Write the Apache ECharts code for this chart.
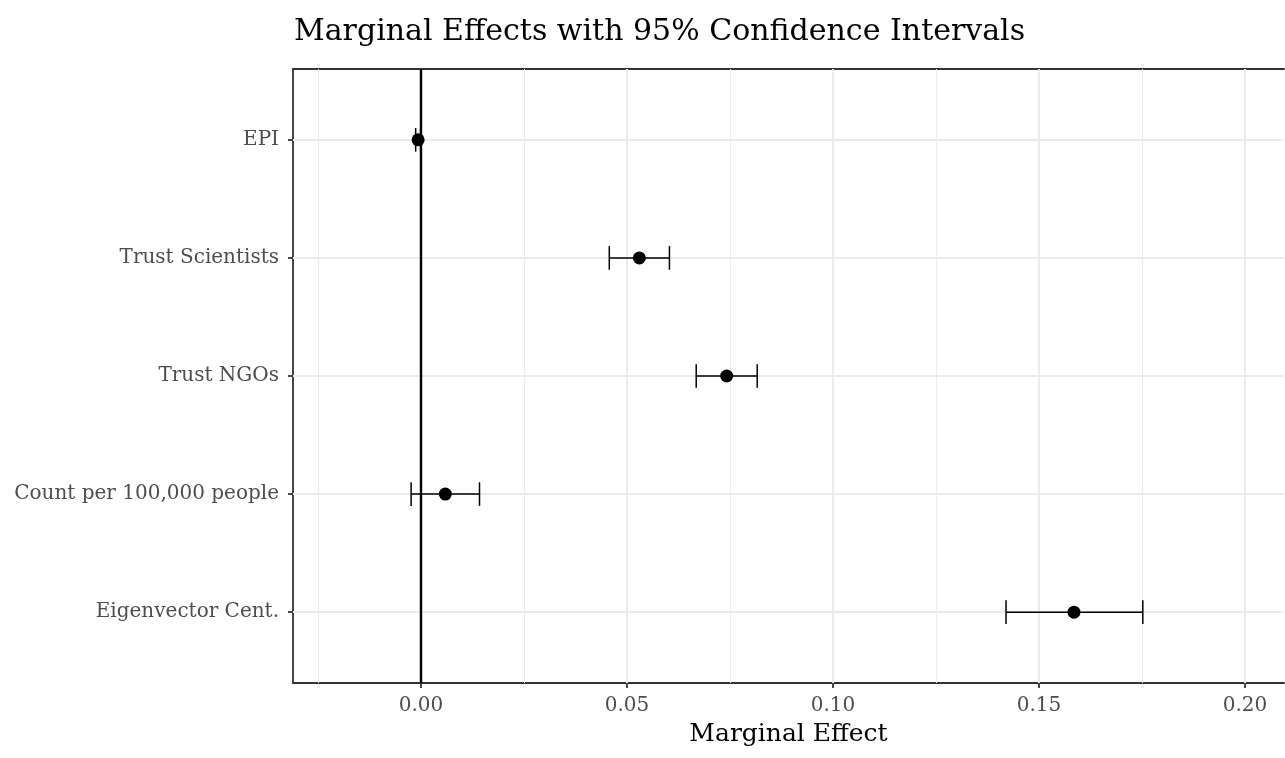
<!DOCTYPE html>
<html>
<head>
<meta charset="utf-8">
<script src="https://cdn.jsdelivr.net/npm/echarts@6/dist/echarts.min.js"></script>
<style>html,body{margin:0;padding:0;background:#fff;}#c{width:1285px;height:758px;}</style>
</head>
<body>
<div id="c"></div>
<script>
const categories = ['EPI', 'Trust Scientists', 'Trust NGOs', 'Count per 100,000 people', 'Eigenvector Cent.'];
const estimates = [-0.0007, 0.0530, 0.0742, 0.0059, 0.1585];
const lowerCI = [-0.0013, 0.0457, 0.0668, -0.0024, 0.1420];
const upperCI = [-0.0001, 0.0603, 0.0816, 0.0142, 0.1752];
const xTicks = [0, 0.05, 0.10, 0.15, 0.20];
const xMinorGrid = [-0.025, 0.025, 0.075, 0.125, 0.175];
const yTicks = [0, 1, 2, 3, 4];

const FONT = 'DejaVu Serif';
const chart = echarts.init(document.getElementById('c'), null, {renderer: 'canvas'});

const errData = categories.map((c, i) => [lowerCI[i], upperCI[i], i]);
const ptData = categories.map((c, i) => [estimates[i], i]);

const gridLines = [];
xMinorGrid.forEach(v => gridLines.push({xAxis: v, lineStyle: {width: 1, color: '#ededed', type: 'solid'}}));
xTicks.forEach(v => gridLines.push({xAxis: v, lineStyle: {width: 2, color: '#ebebeb', type: 'solid'}}));
yTicks.forEach(v => gridLines.push({yAxis: v, lineStyle: {width: 2, color: '#ebebeb', type: 'solid'}}));

const X_MIN = -0.03107, X_MAX = 0.20947;

chart.setOption({
  animation: false,
  backgroundColor: '#ffffff',
  title: {
    text: 'Marginal Effects with 95% Confidence Intervals',
    left: 289, top: 12,
    textStyle: {fontFamily: FONT, fontSize: 30, fontWeight: 'normal', color: '#000'}
  },
  grid: {
    left: 293, top: 69, right: 1, bottom: 75,
    show: false
  },
  xAxis: [{
    type: 'value',
    min: X_MIN, max: X_MAX,
    name: 'Marginal Effect',
    nameLocation: 'middle', nameGap: 39,
    nameTextStyle: {fontFamily: FONT, fontSize: 25, color: '#000'},
    axisLine: {show: true, onZero: false, lineStyle: {color: '#333333', width: 1.8}},
    axisTick: {show: true, length: 5, customValues: xTicks, lineStyle: {color: '#333333', width: 1.8}},
    axisLabel: {customValues: xTicks, margin: 13, fontFamily: FONT, fontSize: 20, color: '#4d4d4d',
      formatter: v => v.toFixed(2)},
    splitLine: {show: false}
  }, {
    type: 'value', position: 'top',
    min: X_MIN, max: X_MAX,
    axisLine: {show: true, onZero: false, lineStyle: {color: '#333333', width: 1.8}},
    axisTick: {show: false}, axisLabel: {show: false}, splitLine: {show: false}
  }],
  yAxis: {
    type: 'value',
    inverse: true,
    min: -0.6, max: 4.6,
    axisLine: {show: true, onZero: false, lineStyle: {color: '#333333', width: 1.8}},
    axisTick: {show: true, length: 5, customValues: yTicks, lineStyle: {color: '#333333', width: 1.8}},
    axisLabel: {customValues: yTicks, margin: 14, fontFamily: FONT, fontSize: 20, color: '#4d4d4d',
      formatter: v => categories[Math.round(v)] || ''},
    splitLine: {show: false}
  },
  series: [
    {
      type: 'line', data: [], silent: true, z: 1,
      markLine: {silent: true, z: 1, precision: 6, symbol: 'none', label: {show: false}, animation: false, data: gridLines}
    },
    {
      type: 'line', data: [], silent: true, z: 2,
      markLine: {silent: true, z: 2, precision: 6, symbol: 'none', label: {show: false}, animation: false,
        data: [{xAxis: 0, lineStyle: {color: '#000', width: 2.4, type: 'solid'}}]}
    },
    {
      type: 'custom', z: 3,
      data: errData,
      renderItem: function (params, api) {
        const lo = api.coord([api.value(0), api.value(2)]);
        const hi = api.coord([api.value(1), api.value(2)]);
        const h = api.size([0, 0.2])[1] / 2;
        const st = {stroke: '#000', lineWidth: 1.5};
        return {type: 'group', children: [
          {type: 'line', shape: {x1: lo[0], y1: lo[1], x2: hi[0], y2: hi[1]}, style: st},
          {type: 'line', shape: {x1: lo[0], y1: lo[1] - h, x2: lo[0], y2: lo[1] + h}, style: st},
          {type: 'line', shape: {x1: hi[0], y1: hi[1] - h, x2: hi[0], y2: hi[1] + h}, style: st}
        ]};
      }
    },
    {
      type: 'scatter', z: 4,
      data: ptData,
      symbol: 'circle', symbolSize: 13,
      itemStyle: {color: '#000', opacity: 1}
    }
  ]
});
</script>
</body>
</html>
